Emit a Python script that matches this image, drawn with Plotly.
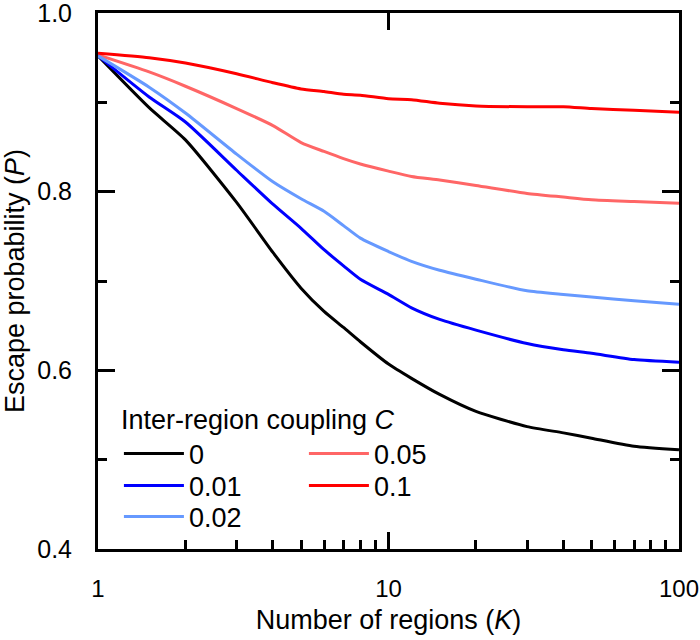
import plotly.graph_objects as go

# ---- data ----
K = [1, 1.5, 2, 3, 4, 5, 6, 7, 8, 10, 12, 15, 20, 30, 40, 50, 70, 100]
P_c0 = [0.952, 0.894, 0.858, 0.788, 0.732, 0.692, 0.666, 0.648, 0.632, 0.607,
        0.591, 0.573, 0.554, 0.537, 0.530, 0.524, 0.515, 0.511]
P_c001 = [0.952, 0.906, 0.878, 0.824, 0.786, 0.759, 0.735, 0.717, 0.702, 0.685,
          0.670, 0.657, 0.645, 0.630, 0.623, 0.619, 0.612, 0.609]
P_c002 = [0.952, 0.917, 0.888, 0.842, 0.811, 0.792, 0.778, 0.762, 0.748, 0.733,
          0.722, 0.712, 0.702, 0.689, 0.685, 0.682, 0.678, 0.674]
P_c005 = [0.953, 0.934, 0.918, 0.893, 0.874, 0.855, 0.845, 0.837, 0.831, 0.823,
          0.817, 0.813, 0.807, 0.798, 0.794, 0.791, 0.789, 0.787]
P_c01 = [0.955, 0.950, 0.944, 0.932, 0.922, 0.915, 0.912, 0.909, 0.908, 0.904,
         0.903, 0.899, 0.896, 0.895, 0.895, 0.893, 0.891, 0.889]

series_names = ["0", "0.01", "0.02", "0.05", "0.1"]
series_values = [P_c0, P_c001, P_c002, P_c005, P_c01]
series_colors = ["#000000", "#0000FF", "#6699FF", "#FF6666", "#FF0000"]
# legend rows: row1 = 0, 0.05 ; row2 = 0.01, 0.1 ; row3 = 0.02
series_legend = ["legend", "legend2", "legend3", "legend", "legend2"]
legend_order = [0, 3, 1, 4, 2]

x_tick_vals = [1, 10, 100]
x_tick_text = ["1", "10", "100"]
x_minor_vals = [2, 3, 4, 5, 6, 7, 8, 9, 20, 30, 40, 50, 60, 70, 80, 90]
y_tick_vals = [0.4, 0.6, 0.8, 1.0]
y_tick_text = ["0.4", "0.6", "0.8", "1.0"]

FONT = "Arial, Liberation Sans, sans-serif"
FS = 27      # titles / legend
FT = 24      # tick labels

fig = go.Figure()
for i in legend_order:
    fig.add_trace(go.Scatter(x=K, y=series_values[i], mode="lines", name=series_names[i],
                             line=dict(color=series_colors[i], width=3, shape="spline", smoothing=0.6),
                             legend=series_legend[i]))

# transparent copy of one series, only to carry the bottom minor-tick axis
fig.add_trace(go.Scatter(x=K, y=P_c0, mode="lines", xaxis="x2", yaxis="y",
                         line=dict(width=0), opacity=0, showlegend=False, hoverinfo="skip"))

leg_common = dict(orientation="h", xanchor="left", bgcolor="rgba(0,0,0,0)",
                  font=dict(size=FS), itemwidth=60, entrywidthmode="pixels", entrywidth=110,
                  tracegroupgap=0)

fig.update_layout(
    width=700, height=640,
    margin=dict(l=98, r=21, t=13, b=91),
    paper_bgcolor="white", plot_bgcolor="white",
    font=dict(family=FONT, size=FS, color="black"),
    xaxis=dict(type="log", range=[0, 2], tickvals=x_tick_vals, ticktext=x_tick_text,
               ticks="inside", ticklen=17, tickwidth=3, tickcolor="black",
               showline=True, linewidth=3, linecolor="black", mirror="ticks",
               showgrid=False, zeroline=False, ticklabelstandoff=16, automargin=False,
               ticklabeloverflow="allow", tickfont=dict(size=FT),
               title=dict(text="Number of regions (<i>K</i>)", font=dict(size=FS), standoff=10)),
    xaxis2=dict(type="log", range=[0, 2], overlaying="x", side="bottom", anchor="y",
                tickvals=x_minor_vals, ticks="inside", ticklen=9, tickwidth=3, tickcolor="black",
                showticklabels=False, showgrid=False, zeroline=False, showline=False,
                automargin=False),
    yaxis=dict(range=[0.4, 1.0], tickvals=y_tick_vals, ticktext=y_tick_text,
               ticks="inside", ticklen=17, tickwidth=3, tickcolor="black",
               showline=True, linewidth=3, linecolor="black", mirror="ticks",
               showgrid=False, zeroline=False, ticklabelstandoff=18, automargin=False,
               ticklabeloverflow="allow", tickfont=dict(size=FT + 1),
               minor=dict(dtick=0.1, ticks="inside", ticklen=9, tickwidth=3,
                          tickcolor="black", showgrid=False),
               title=dict(text="Escape probability (<i>P</i>)", font=dict(size=FS), standoff=12)),
    legend=dict(x=0.036, y=0.132, yanchor="bottom",
                title=dict(text="Inter-region coupling <i>C</i>", font=dict(size=FS), side="top"),
                **leg_common),
    legend2=dict(x=0.036, y=0.1175, yanchor="middle", **leg_common),
    legend3=dict(x=0.036, y=0.0597, yanchor="middle", **leg_common),
)

fig.write_html("out.html", config={"displayModeBar": False},
               post_script="document.body.style.margin='0';document.body.style.overflow='hidden';")
